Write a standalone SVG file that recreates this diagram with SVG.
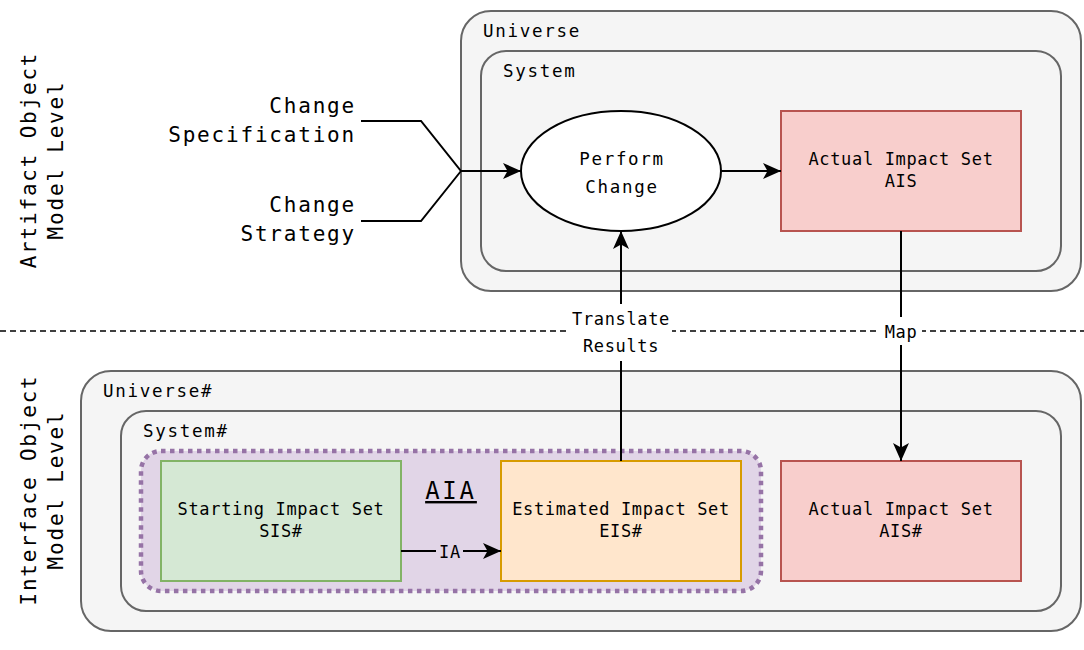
<svg xmlns="http://www.w3.org/2000/svg" width="1084" height="650" viewBox="0 0 1084 650">
<defs>
<marker id="arr" markerUnits="userSpaceOnUse" markerWidth="22" markerHeight="22" viewBox="-20 -11 22 22" refX="0" refY="0" orient="auto">
<path d="M0,0 L-18,-8 L-13.5,0 L-18,8 Z" fill="#000"/>
</marker>
</defs>
<style>
text{font-family:"DejaVu Sans Mono","Liberation Mono",monospace;fill:#000}
.t1{font-size:17.5px;letter-spacing:1.7px}
.t2{font-size:17px;letter-spacing:0.65px}
.t3{font-size:21px;letter-spacing:1.8px}
.cont{fill:#f5f5f5;stroke:#666;stroke-width:2}
.red{fill:#f8cecc;stroke:#b85450;stroke-width:2}
.edge{fill:none;stroke:#000;stroke-width:2}
.mid{text-anchor:middle}
</style>
<rect width="1084" height="650" fill="#fff"/>

<g id="side-labels">
<text class="t3 mid" transform="translate(36,160) rotate(-90)">Artifact Object</text>
<text class="t3 mid" transform="translate(63,160) rotate(-90)">Model Level</text>
<text class="t3 mid" transform="translate(36,490) rotate(-90)">Interface Object</text>
<text class="t3 mid" transform="translate(63,490) rotate(-90)">Model Level</text>
</g>

<g id="universe">
<rect class="cont" x="461" y="11" width="620" height="280" rx="30"/>
<text class="t1" x="483" y="37">Universe</text>
</g>
<g id="system">
<rect class="cont" x="481" y="51" width="580" height="220" rx="25"/>
<text class="t1" x="503" y="77">System</text>
</g>

<g id="universe-hash">
<rect class="cont" x="81" y="371" width="1000" height="260" rx="30"/>
<text class="t1" x="103" y="397">Universe#</text>
</g>
<g id="system-hash">
<rect class="cont" x="121" y="411" width="940" height="200" rx="25"/>
<text class="t1" x="143" y="437">System#</text>
</g>

<g id="aia">
<rect x="141" y="451" width="620" height="140" rx="20" fill="#e1d5e7" stroke="#9673a6" stroke-width="4.5" stroke-dasharray="4.5 4.5"/>
<text x="451" y="499" text-anchor="middle" font-size="24" letter-spacing="2.8" text-decoration="underline">AIA</text>
</g>

<g id="change-spec">
<text class="t3" x="356" y="113" text-anchor="end">Change</text>
<text class="t3" x="356" y="142" text-anchor="end">Specification</text>
</g>
<g id="change-strategy">
<text class="t3" x="356" y="212" text-anchor="end">Change</text>
<text class="t3" x="356" y="241" text-anchor="end">Strategy</text>
</g>

<g id="perform-change">
<ellipse cx="621" cy="171" rx="100" ry="60" fill="#fff" stroke="#000" stroke-width="2"/>
<text class="t1 mid" x="622" y="165">Perform</text>
<text class="t1 mid" x="622" y="193">Change</text>
</g>

<g id="ais">
<rect class="red" x="781" y="111" width="240" height="120"/>
<text class="t2 mid" x="901" y="165">Actual Impact Set</text>
<text class="t2 mid" x="901" y="187">AIS</text>
</g>

<g id="sis">
<rect x="161" y="461" width="240" height="120" fill="#d5e8d4" stroke="#82b366" stroke-width="2"/>
<text class="t2 mid" x="281" y="515">Starting Impact Set</text>
<text class="t2 mid" x="281" y="537">SIS#</text>
</g>

<g id="eis">
<rect x="501" y="461" width="240" height="120" fill="#ffe6cc" stroke="#d79b00" stroke-width="2"/>
<text class="t2 mid" x="621" y="515">Estimated Impact Set</text>
<text class="t2 mid" x="621" y="537">EIS#</text>
</g>

<g id="ais-hash">
<rect class="red" x="781" y="461" width="240" height="120"/>
<text class="t2 mid" x="901" y="515">Actual Impact Set</text>
<text class="t2 mid" x="901" y="537">AIS#</text>
</g>

<g id="connectors">
<line x1="0" y1="331" x2="1084" y2="331" stroke="#000" stroke-width="1.5" stroke-dasharray="6 4"/>
<path class="edge" d="M361,121 H421 L461,171 H521" marker-end="url(#arr)"/>
<path class="edge" d="M361,221 H421 L461,171"/>
<path class="edge" d="M721,171 H781" marker-end="url(#arr)"/>
<path class="edge" d="M621,461 V231" marker-end="url(#arr)"/>
<path class="edge" d="M901,231 V461" marker-end="url(#arr)"/>
<path class="edge" d="M401,551 H501" marker-end="url(#arr)"/>
<rect x="570" y="304" width="102" height="57" fill="#fff"/>
<text class="t2 mid" x="621" y="325">Translate</text>
<text class="t2 mid" x="621" y="352">Results</text>
<rect x="879" y="317" width="43" height="28" fill="#fff"/>
<text class="t2 mid" x="901" y="338">Map</text>
<rect x="436" y="541" width="27" height="20" fill="#e1d5e7"/>
<text class="t2 mid" x="450" y="558">IA</text>
</g>
</svg>
